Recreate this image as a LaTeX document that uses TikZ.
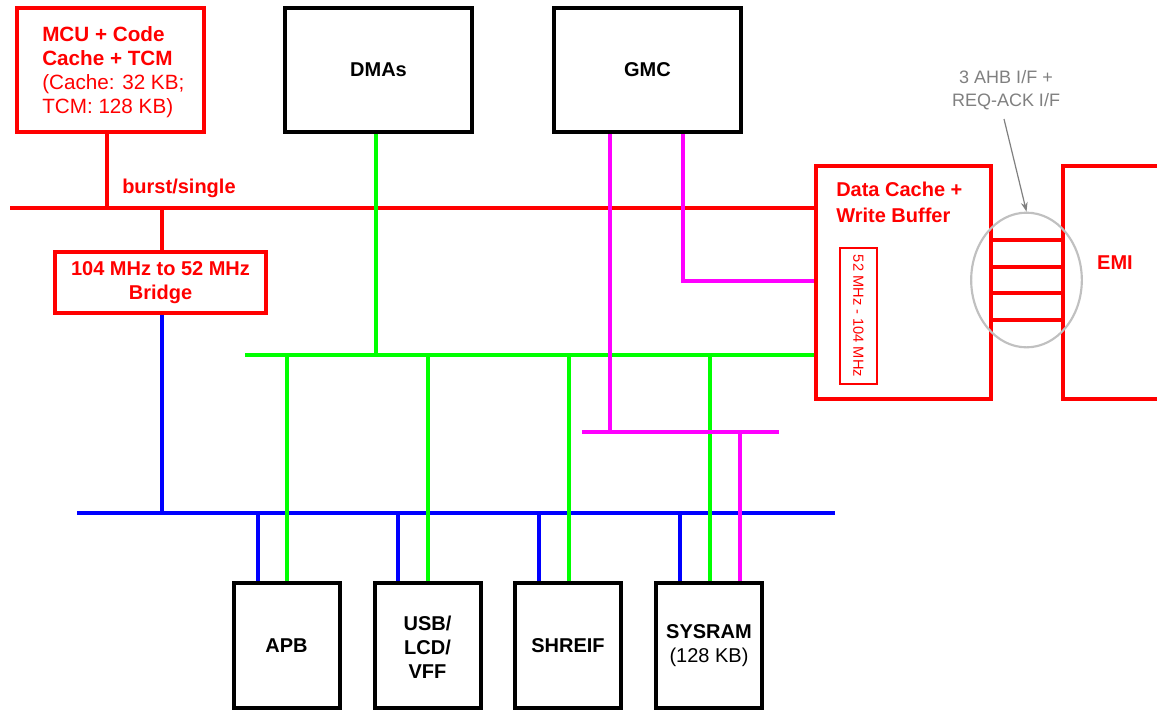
\documentclass[tikz,border=0pt]{standalone}
\usepackage{fontspec}
\setmainfont{Liberation Sans}
\usetikzlibrary{arrows.meta,shapes.geometric}
\definecolor{rd}{RGB}{255,0,0}
\definecolor{gn}{RGB}{0,255,0}
\definecolor{bl}{RGB}{0,0,255}
\definecolor{mg}{RGB}{255,0,255}
\definecolor{gy}{RGB}{192,192,192}
\definecolor{gt}{RGB}{128,128,128}
\tikzset{
  blkbox/.style={draw=black, line width=3pt, inner sep=0pt, font=\fontsize{15}{18}\selectfont\bfseries, align=center},
  redbox/.style={draw=rd, line width=2.3pt, inner sep=0pt, text=rd, font=\fontsize{15}{18}\selectfont\bfseries, align=center},
  redbus/.style={draw=rd, line width=2.3pt},
  greenbus/.style={draw=gn, line width=2.3pt},
  bluebus/.style={draw=bl, line width=2.3pt},
  magbus/.style={draw=mg, line width=2.3pt},
  ladder/.style={draw=rd, line width=3pt},
}
\begin{document}
\begin{tikzpicture}[x=0.75pt,y=-0.75pt]
\useasboundingbox (0,0) rectangle (1157,710);
\fill[white] (0,0) rectangle (1157,710);

% top boxes
\node[redbox, minimum width=140.25pt, minimum height=93pt] (mcu) at (110.5,70) {};
\node[text=rd, font=\fontsize{15.5}{18}\selectfont\bfseries, inner sep=0pt, anchor=west] (mcutxt) at (42,73)
  {\begin{tabular}{@{}l@{}}MCU + Code\\Cache + TCM\\\mdseries(Cache: 32 KB;\\\mdseries TCM: 128 KB)\end{tabular}};
\node[blkbox, minimum width=140.25pt, minimum height=93pt] (dma) at (378.5,70) {DMAs};
\node[blkbox, minimum width=140.25pt, minimum height=93pt] (gmc) at (647.5,70) {GMC};

% bridge
\node[redbox, minimum width=158.25pt, minimum height=45.75pt] (bridge) at (160.5,282.5)
  {104 MHz to 52 MHz\\Bridge};

% data cache
\node[redbox, minimum width=131.25pt, minimum height=174.75pt] (dc) at (903.5,282.5) {};
\node[anchor=west, text=rd, font=\fontsize{15}{19.5}\selectfont\bfseries, align=left, inner sep=0pt] (dclabel) at (836,202)
  {Data Cache +\\Write Buffer};
\node[draw=rd, line width=1.1pt, minimum width=27.75pt, minimum height=102pt, inner sep=0pt] (inner) at (858.5,316) {};
\node[rotate=-90, text=rd, font=\fontsize{11}{13}\selectfont, inner sep=0pt] (innertxt) at (inner.center) {52 MHz - 104 MHz};

% EMI
\node[redbox, minimum width=87.75pt, minimum height=174.75pt] (emi) at (1121.5,282.5) {};
\node[text=rd, font=\fontsize{15}{18}\selectfont\bfseries, inner sep=0pt] (emitxt) at (1115,263) {EMI};

% ladder
\foreach \yy in {240,267,293,320}{
  \draw[ladder] (dc.east |- 0,\yy) -- (emi.west |- 0,\yy);
}
\node[draw=gy, line width=1.6pt, ellipse, minimum width=83pt, minimum height=101pt, inner sep=0pt] (ell) at (1026.5,280) {};
\node[text=gt, font=\fontsize{13.5}{17}\selectfont, align=center, inner sep=0pt] (ahb) at (1006,90)
  {3 AHB I/F +\\REQ-ACK I/F};
\coordinate (arrs) at (1004,119);
\draw[gt, line width=0.9pt, -{Stealth[length=7pt,width=5pt]}] (arrs) -- (ell.north);

% bottom boxes
\node[blkbox, minimum width=79.5pt, minimum height=93.75pt] (apb) at (286.5,645.5) {APB};
\node[blkbox, minimum width=79.5pt, minimum height=93.75pt] (usb) at (427.5,645.5) {};
\node[font=\fontsize{15}{18}\selectfont\bfseries, align=center, inner sep=0pt] (usbtxt) at (427.5,647) {USB/\\LCD/\\VFF};
\node[blkbox, minimum width=79.5pt, minimum height=93.75pt] (shr) at (568,645.5) {SHREIF};
\node[blkbox, minimum width=79.5pt, minimum height=93.75pt] (sys) at (709,645.5) {SYSRAM\\\mdseries(128 KB)};

% red bus
\coordinate (rbL) at (10,208);
\draw[redbus] (rbL) -- (rbL -| dc.west);
\coordinate (rm) at (107,208);
\draw[redbus] (mcu.south -| rm) -- (rm);
\coordinate (rb) at (162,208);
\draw[redbus] (rb) -- (rb |- bridge.north);
\node[anchor=west, text=rd, font=\fontsize{15}{18}\selectfont\bfseries, inner sep=0pt] (burst) at (122,188) {burst/single};

% blue bus
\coordinate (bbL) at (77,513);
\coordinate (bbR) at (835,513);
\coordinate (bbr) at (162,513);
\draw[bluebus] (bbL) -- (bbR);
\draw[bluebus] (bridge.south -| bbr) -- (bbr);
\foreach \xx/\nn in {258/apb,398/usb,539/shr,680/sys}{
  \draw[bluebus] (\xx,513) coordinate (b\nn) -- (b\nn |- \nn.north);
}

% green bus
\coordinate (gbL) at (245,355);
\coordinate (gd) at (376,355);
\draw[greenbus] (gbL) -- (gbL -| dc.west);
\draw[greenbus] (dma.south -| gd) -- (gd);
\foreach \xx/\nn in {287/apb,428/usb,569/shr,710/sys}{
  \draw[greenbus] (\xx,355) coordinate (g\nn) -- (g\nn |- \nn.north);
}

% magenta
\coordinate (m1) at (610,432);
\coordinate (m2) at (683,281);
\coordinate (mbL) at (582,432);
\coordinate (mbR) at (779,432);
\coordinate (mS) at (740,432);
\draw[magbus] (gmc.south -| m1) -- (m1);
\draw[magbus] (gmc.south -| m2) -- (m2) -- (m2 -| dc.west);
\draw[magbus] (mbL) -- (mbR);
\draw[magbus] (mS) -- (mS |- sys.north);
\end{tikzpicture}
\end{document}
